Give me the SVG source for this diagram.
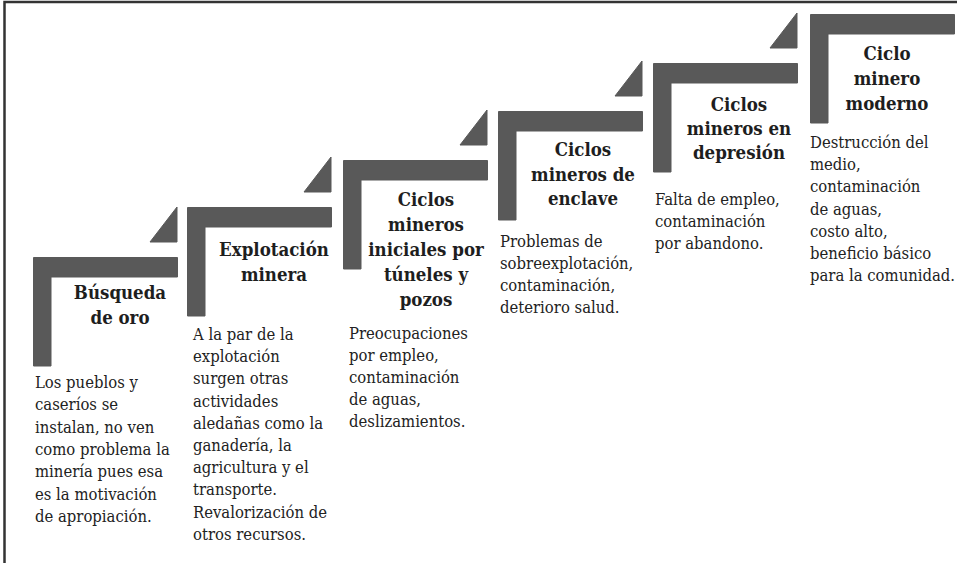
<svg xmlns="http://www.w3.org/2000/svg" width="957" height="563" viewBox="0 0 957 563">
<style>
.shape{fill:#595959;stroke:#595959;stroke-width:1;stroke-linejoin:round}
.title{font-family:'DejaVu Serif Condensed','DejaVu Serif',serif;font-stretch:condensed;font-weight:bold;font-size:18.5px;fill:#1e1e1e;text-anchor:middle}
.body{font-family:'DejaVu Serif Condensed','DejaVu Serif',serif;font-stretch:condensed;font-size:16.5px;fill:#222}
.frame{fill:none;stroke:#333;stroke-width:2.5}
</style>
<defs>
<g id="step">
<path class="shape" d="M0.5,0.5 H144.5 V20 H18 V109 H0.5 Z"/>
<path class="shape" d="M117,-15 H144 V-50 Z"/>
</g>
</defs>
<rect width="957" height="563" fill="#fff"/>
<path class="frame" d="M4.5,563 V2 H957"/>
<g id="connectors"/>
<g id="step1">
<use href="#step" x="33" y="257"/>
<text class="title"><tspan x="120" y="299">Búsqueda</tspan><tspan x="120" y="324">de oro</tspan></text>
<text class="body"><tspan x="35" y="388">Los pueblos y</tspan><tspan x="35" y="410.3">caseríos se</tspan><tspan x="35" y="432.6">instalan, no ven</tspan><tspan x="35" y="454.9">como problema la</tspan><tspan x="35" y="477.2">minería pues esa</tspan><tspan x="35" y="499.5">es la motivación</tspan><tspan x="35" y="521.8">de apropiación.</tspan></text>
</g>
<g id="step2">
<use href="#step" x="187" y="207"/>
<text class="title"><tspan x="274" y="256">Explotación</tspan><tspan x="274" y="281">minera</tspan></text>
<text class="body"><tspan x="193" y="340">A la par de la</tspan><tspan x="193" y="362.2">explotación</tspan><tspan x="193" y="384.4">surgen otras</tspan><tspan x="193" y="406.6">actividades</tspan><tspan x="193" y="428.8">aledañas como la</tspan><tspan x="193" y="451">ganadería, la</tspan><tspan x="193" y="473.2">agricultura y el</tspan><tspan x="193" y="495.4">transporte.</tspan><tspan x="193" y="517.6">Revalorización de</tspan><tspan x="193" y="539.8">otros recursos.</tspan></text>
</g>
<g id="step3">
<use href="#step" x="343" y="160"/>
<text class="title"><tspan x="426" y="206">Ciclos</tspan><tspan x="426" y="231">mineros</tspan><tspan x="426" y="256">iniciales por</tspan><tspan x="426" y="281">túneles y</tspan><tspan x="426" y="306">pozos</tspan></text>
<text class="body"><tspan x="349" y="339">Preocupaciones</tspan><tspan x="349" y="361">por empleo,</tspan><tspan x="349" y="383">contaminación</tspan><tspan x="349" y="405">de aguas,</tspan><tspan x="349" y="427">deslizamientos.</tspan></text>
</g>
<g id="step4">
<use href="#step" x="498" y="111"/>
<text class="title"><tspan x="583" y="156">Ciclos</tspan><tspan x="583" y="180.5">mineros de</tspan><tspan x="583" y="205">enclave</tspan></text>
<text class="body"><tspan x="500" y="247">Problemas de</tspan><tspan x="500" y="269">sobreexplotación,</tspan><tspan x="500" y="291">contaminación,</tspan><tspan x="500" y="313">deterioro salud.</tspan></text>
</g>
<g id="step5">
<use href="#step" x="653" y="63"/>
<text class="title"><tspan x="739" y="111">Ciclos</tspan><tspan x="739" y="135">mineros en</tspan><tspan x="739" y="159">depresión</tspan></text>
<text class="body"><tspan x="655" y="205">Falta de empleo,</tspan><tspan x="655" y="227">contaminación</tspan><tspan x="655" y="249">por abandono.</tspan></text>
</g>
<g id="step6">
<use href="#step" x="810" y="14"/>
<text class="title"><tspan x="887" y="60">Ciclo</tspan><tspan x="887" y="85">minero</tspan><tspan x="887" y="110">moderno</tspan></text>
<text class="body"><tspan x="810" y="148">Destrucción del</tspan><tspan x="810" y="170.2">medio,</tspan><tspan x="810" y="192.4">contaminación</tspan><tspan x="810" y="214.6">de aguas,</tspan><tspan x="810" y="236.8">costo alto,</tspan><tspan x="810" y="259">beneficio básico</tspan><tspan x="810" y="281.2">para la comunidad.</tspan></text>
</g>
</svg>
